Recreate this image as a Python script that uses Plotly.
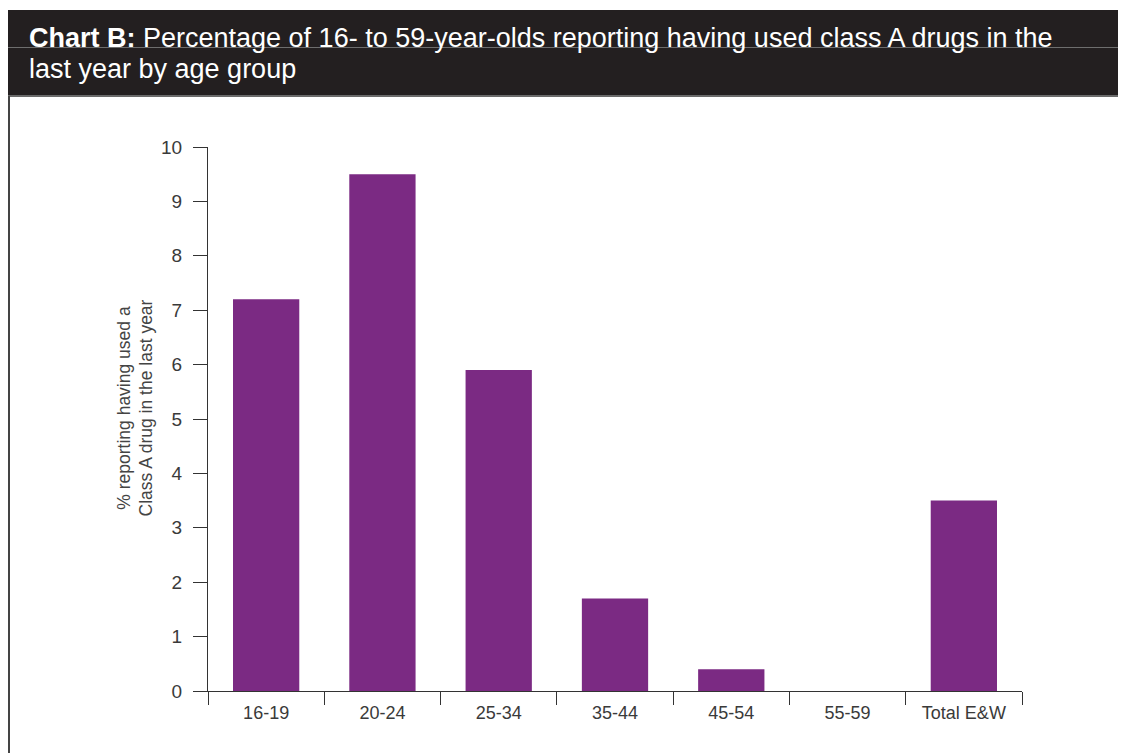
import plotly.graph_objects as go

categories = ["16-19", "20-24", "25-34", "35-44", "45-54", "55-59", "Total E&W"]
values = [7.2, 9.5, 5.9, 1.7, 0.4, 0.0, 3.5]
y_ticks = [0, 1, 2, 3, 4, 5, 6, 7, 8, 9, 10]

OFF = 8  # default page body margin
W, H = 1126 - OFF, 753 - OFF
# plot area in page pixels
L, R, T, B = 208, 1022, 147, 691

def px(x):
    return (x - L) / (R - L)

def py(y):
    return (B - y) / (B - T)

FONT = "Liberation Sans, Arial, Helvetica, sans-serif"
BAR = "#7b2a83"
AX = "#333333"

fig = go.Figure(go.Bar(
    x=categories, y=values, marker=dict(color=BAR, line=dict(width=0)),
    hoverinfo="x+y",
))

fig.update_layout(
    width=W, height=H,
    margin=dict(l=L - OFF, r=W - (R - OFF), t=T - OFF, b=H - (B - OFF), pad=0),
    paper_bgcolor="white", plot_bgcolor="white",
    bargap=0.43, showlegend=False,
    font=dict(family=FONT, color="#3a3a3a", size=18),
)

fig.update_xaxes(
    type="category", range=[-0.5, 6.5],
    showline=True, linecolor=AX, linewidth=1.3,
    ticks="outside", tickson="boundaries", ticklen=13, tickcolor=AX, tickwidth=1.3,
    showgrid=False, zeroline=False,
    tickfont=dict(size=18, color="#3a3a3a"),
    ticklabelstandoff=5,
)
fig.update_yaxes(
    range=[0, 10], tickvals=y_ticks,
    showline=True, linecolor=AX, linewidth=1.3,
    ticks="outside", ticklen=14, tickcolor=AX, tickwidth=1.3,
    showgrid=False, zeroline=False,
    tickfont=dict(size=19, color="#3a3a3a"),
    ticklabelstandoff=7,
)

shapes = [
    # dark title bar
    dict(type="rect", xref="paper", yref="paper",
         x0=px(0), x1=px(1160), y0=py(96), y1=py(10),
         fillcolor="#231f20", line=dict(width=0), layer="below"),
    # faint line across title bar
    dict(type="line", xref="paper", yref="paper",
         x0=px(0), x1=px(1160), y0=py(47.5), y1=py(47.5),
         line=dict(color="#6e6e6e", width=1)),
    # lower edge of title bar
    dict(type="line", xref="paper", yref="paper",
         x0=px(0), x1=px(1160), y0=py(96), y1=py(96),
         line=dict(color="#6a6a6a", width=2)),
    # left border of chart box
    dict(type="line", xref="paper", yref="paper",
         x0=px(9), x1=px(9), y0=py(96), y1=py(790),
         line=dict(color="#444444", width=2)),
]

annotations = [
    dict(xref="paper", yref="paper", x=px(27), y=py(37.5), xanchor="left", yanchor="middle",
         text="<b>Chart B:</b> Percentage of 16- to 59-year-olds reporting having used class A drugs in the",
         showarrow=False, font=dict(family=FONT, size=27, color="white"), align="left"),
    dict(xref="paper", yref="paper", x=px(27), y=py(69.5), xanchor="left", yanchor="middle",
         text="last year by age group",
         showarrow=False, font=dict(family=FONT, size=27, color="white"), align="left"),
    dict(xref="paper", yref="paper", x=px(134.5), y=py(408), xanchor="center", yanchor="middle",
         text="% reporting having used a<br>Class A drug in the last year", textangle=-90,
         showarrow=False, font=dict(family=FONT, size=17.5, color="#444444"), align="center"),
]

fig.update_layout(shapes=shapes, annotations=annotations)
fig.write_html("out.html")
